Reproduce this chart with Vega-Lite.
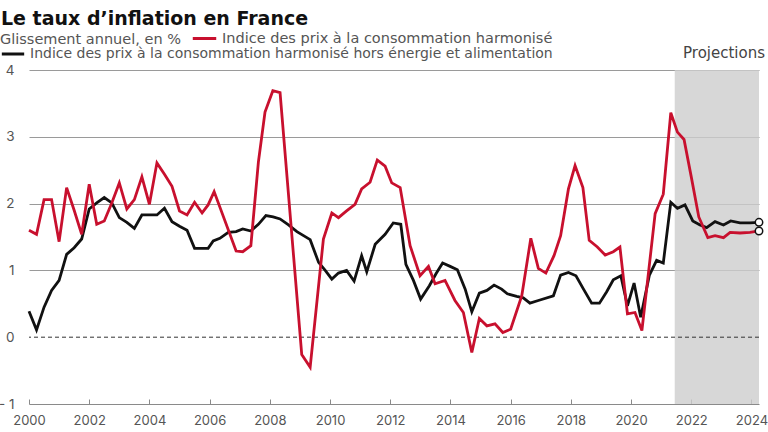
{
"$schema": "https://vega.github.io/schema/vega-lite/v6.json",
"width": 730,
"height": 334,
"autosize": {"type": "none"},
"padding": {"left": 29, "top": 70, "right": 9, "bottom": 28},
"background": "white",
"config": {"font": "DejaVu Sans", "view": {"stroke": null}},
"title": {"text": "Le taux d’inflation en France", "anchor": "start", "frame": "group", "fontSize": 19, "fontWeight": "bold", "font": "DejaVu Sans", "color": "#111", "dx": -28, "offset": -4},
"datasets": {
"ipch": [
{"annee":2000,"taux":1.6},{"annee":2000.25,"taux":1.54},{"annee":2000.5,"taux":2.06},{"annee":2000.75,"taux":2.06},{"annee":2001,"taux":1.43},{"annee":2001.25,"taux":2.24},{"annee":2001.5,"taux":1.9},{"annee":2001.75,"taux":1.54},{"annee":2002,"taux":2.29},{"annee":2002.25,"taux":1.69},{"annee":2002.5,"taux":1.74},{"annee":2002.75,"taux":2.01},{"annee":2003,"taux":2.31},{"annee":2003.25,"taux":1.92},{"annee":2003.5,"taux":2.06},{"annee":2003.75,"taux":2.4},{"annee":2004,"taux":1.99},{"annee":2004.25,"taux":2.61},{"annee":2004.5,"taux":2.44},{"annee":2004.75,"taux":2.26},{"annee":2005,"taux":1.89},{"annee":2005.25,"taux":1.83},{"annee":2005.5,"taux":2.02},{"annee":2005.75,"taux":1.86},{"annee":2005.95,"taux":1.98},{"annee":2006.15,"taux":2.18},{"annee":2006.88,"taux":1.29},{"annee":2007.1,"taux":1.28},{"annee":2007.37,"taux":1.37},{"annee":2007.62,"taux":2.62},{"annee":2007.84,"taux":3.37},{"annee":2008.1,"taux":3.69},{"annee":2008.34,"taux":3.66},{"annee":2009.06,"taux":-0.26},{"annee":2009.34,"taux":-0.45},{"annee":2009.78,"taux":1.47},{"annee":2010.06,"taux":1.86},{"annee":2010.28,"taux":1.79},{"annee":2010.55,"taux":1.89},{"annee":2010.83,"taux":1.99},{"annee":2011.05,"taux":2.22},{"annee":2011.33,"taux":2.32},{"annee":2011.57,"taux":2.65},{"annee":2011.83,"taux":2.56},{"annee":2012.05,"taux":2.31},{"annee":2012.33,"taux":2.24},{"annee":2012.66,"taux":1.37},{"annee":2012.99,"taux":0.92},{"annee":2013.27,"taux":1.06},{"annee":2013.49,"taux":0.8},{"annee":2013.82,"taux":0.85},{"annee":2014.15,"taux":0.55},{"annee":2014.43,"taux":0.37},{"annee":2014.71,"taux":-0.23},{"annee":2014.96,"taux":0.28},{"annee":2015.21,"taux":0.17},{"annee":2015.48,"taux":0.2},{"annee":2015.74,"taux":0.07},{"annee":2016,"taux":0.12},{"annee":2016.37,"taux":0.62},{"annee":2016.67,"taux":1.48},{"annee":2016.92,"taux":1.03},{"annee":2017.17,"taux":0.96},{"annee":2017.44,"taux":1.22},{"annee":2017.66,"taux":1.52},{"annee":2017.92,"taux":2.22},{"annee":2018.14,"taux":2.57},{"annee":2018.4,"taux":2.24},{"annee":2018.61,"taux":1.45},{"annee":2018.88,"taux":1.35},{"annee":2019.14,"taux":1.23},{"annee":2019.41,"taux":1.28},{"annee":2019.63,"taux":1.35},{"annee":2019.88,"taux":0.35},{"annee":2020.13,"taux":0.37},{"annee":2020.36,"taux":0.1},{"annee":2020.58,"taux":0.97},{"annee":2020.8,"taux":1.85},{"annee":2021.07,"taux":2.14},{"annee":2021.32,"taux":3.36},{"annee":2021.54,"taux":3.07},{"annee":2021.76,"taux":2.96},{"annee":2022,"taux":2.4},{"annee":2022.25,"taux":1.8},{"annee":2022.55,"taux":1.49},{"annee":2022.79,"taux":1.52},{"annee":2023.07,"taux":1.49},{"annee":2023.29,"taux":1.57},{"annee":2023.62,"taux":1.56},{"annee":2023.95,"taux":1.57},{"annee":2024.25,"taux":1.59}
],
"sous_jacent": [
{"annee":2000,"taux":0.39},{"annee":2000.25,"taux":0.11},{"annee":2000.5,"taux":0.45},{"annee":2000.75,"taux":0.7},{"annee":2001,"taux":0.85},{"annee":2001.25,"taux":1.24},{"annee":2001.5,"taux":1.34},{"annee":2001.75,"taux":1.47},{"annee":2002,"taux":1.92},{"annee":2002.25,"taux":2.01},{"annee":2002.5,"taux":2.09},{"annee":2002.75,"taux":2.01},{"annee":2003,"taux":1.79},{"annee":2003.25,"taux":1.72},{"annee":2003.5,"taux":1.63},{"annee":2003.75,"taux":1.83},{"annee":2004,"taux":1.83},{"annee":2004.25,"taux":1.83},{"annee":2004.5,"taux":1.93},{"annee":2004.75,"taux":1.73},{"annee":2005,"taux":1.66},{"annee":2005.25,"taux":1.6},{"annee":2005.5,"taux":1.33},{"annee":2005.75,"taux":1.33},{"annee":2005.95,"taux":1.33},{"annee":2006.12,"taux":1.44},{"annee":2006.34,"taux":1.48},{"annee":2006.62,"taux":1.57},{"annee":2006.88,"taux":1.58},{"annee":2007.1,"taux":1.62},{"annee":2007.37,"taux":1.59},{"annee":2007.62,"taux":1.69},{"annee":2007.87,"taux":1.82},{"annee":2008.11,"taux":1.8},{"annee":2008.34,"taux":1.77},{"annee":2008.62,"taux":1.68},{"annee":2008.9,"taux":1.58},{"annee":2009.12,"taux":1.52},{"annee":2009.34,"taux":1.46},{"annee":2009.62,"taux":1.12},{"annee":2009.84,"taux":1.0},{"annee":2010.06,"taux":0.87},{"annee":2010.28,"taux":0.96},{"annee":2010.55,"taux":1.0},{"annee":2010.8,"taux":0.84},{"annee":2011.05,"taux":1.22},{"annee":2011.22,"taux":0.98},{"annee":2011.5,"taux":1.39},{"annee":2011.83,"taux":1.54},{"annee":2012.1,"taux":1.71},{"annee":2012.35,"taux":1.69},{"annee":2012.52,"taux":1.09},{"annee":2012.77,"taux":0.85},{"annee":2013.01,"taux":0.57},{"annee":2013.3,"taux":0.77},{"annee":2013.52,"taux":0.95},{"annee":2013.74,"taux":1.11},{"annee":2013.99,"taux":1.06},{"annee":2014.23,"taux":1.01},{"annee":2014.49,"taux":0.72},{"annee":2014.71,"taux":0.38},{"annee":2014.96,"taux":0.66},{"annee":2015.21,"taux":0.7},{"annee":2015.45,"taux":0.78},{"annee":2015.7,"taux":0.72},{"annee":2015.89,"taux":0.65},{"annee":2016.2,"taux":0.61},{"annee":2016.42,"taux":0.59},{"annee":2016.64,"taux":0.51},{"annee":2016.92,"taux":0.55},{"annee":2017.42,"taux":0.62},{"annee":2017.66,"taux":0.93},{"annee":2017.92,"taux":0.97},{"annee":2018.17,"taux":0.92},{"annee":2018.42,"taux":0.72},{"annee":2018.69,"taux":0.51},{"annee":2018.95,"taux":0.51},{"annee":2019.19,"taux":0.68},{"annee":2019.41,"taux":0.86},{"annee":2019.66,"taux":0.92},{"annee":2019.88,"taux":0.47},{"annee":2020.1,"taux":0.81},{"annee":2020.32,"taux":0.3},{"annee":2020.61,"taux":0.93},{"annee":2020.85,"taux":1.15},{"annee":2021.07,"taux":1.11},{"annee":2021.32,"taux":2.02},{"annee":2021.54,"taux":1.93},{"annee":2021.79,"taux":1.98},{"annee":2022.05,"taux":1.74},{"annee":2022.29,"taux":1.68},{"annee":2022.51,"taux":1.64},{"annee":2022.79,"taux":1.73},{"annee":2023.07,"taux":1.68},{"annee":2023.31,"taux":1.74},{"annee":2023.62,"taux":1.71},{"annee":2023.95,"taux":1.71},{"annee":2024.25,"taux":1.72}
],
"projections": [{"debut": 2021.45, "fin": 2024.25, "annee": 2024.45, "taux": 4.25, "label": "Projections"}],
"zero": [{"taux": 0}]
},
"layer": [
{
"data": {"name": "projections"},
"mark": {"type": "rect", "color": "#cdcdcd", "opacity": 0.8},
"encoding": {
"x": {"field": "debut", "type": "quantitative", "title": null, "scale": {"domain": [2000, 2024.25], "nice": false, "zero": false}},
"x2": {"field": "fin"}
}
},
{
"data": {"name": "zero"},
"mark": {"type": "rule", "strokeDash": [4, 3], "color": "#333", "strokeWidth": 1},
"encoding": {
"y": {"field": "taux", "type": "quantitative", "title": null, "scale": {"domain": [-1, 4], "nice": false, "zero": false}}
}
},
{
"data": {"name": "sous_jacent"},
"mark": {"type": "line", "strokeWidth": 2.8},
"encoding": {
"x": {"field": "annee", "type": "quantitative", "title": null, "scale": {"domain": [2000, 2024.25], "nice": false, "zero": false}},
"y": {"field": "taux", "type": "quantitative", "title": null, "scale": {"domain": [-1, 4], "nice": false, "zero": false}},
"color": {"datum": "Indice des prix à la consommation harmonisé hors énergie et alimentation", "type": "nominal", "scale": {"range": ["#111111"]},
"legend": {"title": null, "orient": "none", "legendX": -29, "legendY": -29, "symbolType": "stroke", "symbolStrokeWidth": 3, "symbolSize": 500, "labelFontSize": 14, "labelColor": "#555", "labelLimit": 800, "labelFont": "DejaVu Sans"}}
}
},
{
"data": {"name": "ipch"},
"mark": {"type": "line", "strokeWidth": 2.8},
"encoding": {
"x": {"field": "annee", "type": "quantitative", "title": null, "scale": {"domain": [2000, 2024.25], "nice": false, "zero": false},
"axis": {"values": [2000,2001,2002,2003,2004,2005,2006,2007,2008,2009,2010,2011,2012,2013,2014,2015,2016,2017,2018,2019,2020,2021,2022,2023,2024], "labelExpr": "datum.value % 2 == 0 ? '' + datum.value : ''", "grid": false, "title": null, "domain": true, "domainColor": "#8a8a8a", "ticks": true, "tickColor": "#8a8a8a", "tickSize": -5, "labelPadding": 15, "labelFontSize": 13, "labelColor": "#555", "labelFlush": false, "labelOverlap": false, "labelFont": "Inter"}},
"y": {"field": "taux", "type": "quantitative", "title": null, "scale": {"domain": [-1, 4], "nice": false, "zero": false},
"axis": {"values": [-1, 0, 1, 2, 3, 4], "grid": true, "gridColor": "#9a9a9a", "gridWidth": 1, "gridOpacity": {"condition": {"test": "datum.value <= 0", "value": 0}, "value": 1}, "domain": false, "ticks": false, "labelPadding": 15, "labelFontSize": 13.5, "labelColor": "#555", "title": null, "labelFont": "Inter", "labelExpr": "datum.value < 0 ? '- 1' : '' + datum.value"}},
"color": {"datum": "Indice des prix à la consommation harmonisé", "type": "nominal", "scale": {"range": ["#c8102e"]},
"legend": {"title": "Glissement annuel, en %", "titleOrient": "left", "titleAnchor": "middle", "titleBaseline": "middle", "orient": "none", "legendX": -29, "legendY": -45, "symbolType": "stroke", "symbolStrokeWidth": 3, "symbolSize": 550, "labelFontSize": 14.5, "labelColor": "#555", "labelLimit": 800, "titleLimit": 400, "titleFontSize": 14.5, "titleFontWeight": "normal", "titleColor": "#555", "titlePadding": 10, "titleFont": "DejaVu Sans", "labelFont": "DejaVu Sans",
"encode": {"title": {"update": {"dy": {"value": 5}}}}}}
}
},
{
"data": {"name": "ipch"},
"transform": [{"filter": "datum.annee >= 2024.2"}],
"mark": {"type": "point", "filled": true, "fill": "white", "stroke": "#111", "strokeWidth": 1.5, "size": 55, "opacity": 1},
"encoding": {
"x": {"field": "annee", "type": "quantitative", "title": null, "scale": {"domain": [2000, 2024.25], "nice": false, "zero": false}},
"y": {"field": "taux", "type": "quantitative", "title": null, "scale": {"domain": [-1, 4], "nice": false, "zero": false}}
}
},
{
"data": {"name": "sous_jacent"},
"transform": [{"filter": "datum.annee >= 2024.2"}],
"mark": {"type": "point", "filled": true, "fill": "white", "stroke": "#111", "strokeWidth": 1.5, "size": 55, "opacity": 1},
"encoding": {
"x": {"field": "annee", "type": "quantitative", "title": null, "scale": {"domain": [2000, 2024.25], "nice": false, "zero": false}},
"y": {"field": "taux", "type": "quantitative", "title": null, "scale": {"domain": [-1, 4], "nice": false, "zero": false}}
}
},
{
"data": {"name": "projections"},
"mark": {"type": "text", "align": "right", "baseline": "middle", "fontSize": 15, "color": "#444", "font": "DejaVu Sans"},
"encoding": {
"x": {"field": "annee", "type": "quantitative", "title": null, "scale": {"domain": [2000, 2024.25], "nice": false, "zero": false}},
"y": {"field": "taux", "type": "quantitative", "title": null, "scale": {"domain": [-1, 4], "nice": false, "zero": false}},
"text": {"field": "label"}
}
}
],
"resolve": {"scale": {"color": "independent"}, "legend": {"color": "independent"}}
}
